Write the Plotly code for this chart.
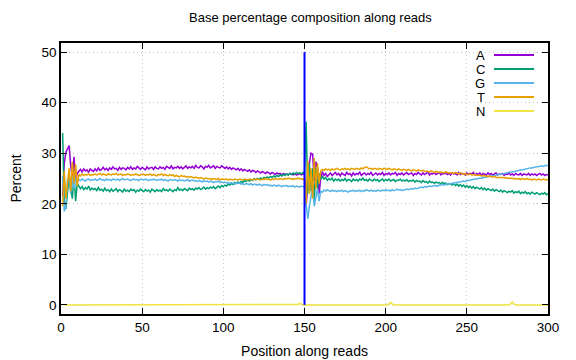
import plotly.graph_objects as go

positions = list(range(1, 301))

base_A = [
    21.5, 28.0, 30.2, 30.8, 31.5, 27.5, 25.0, 29.3, 24.5, 26.0,
    26.4, 26.8, 26.3, 26.9, 26.5, 26.7, 26.2, 26.9, 26.6, 26.4,
    26.9, 26.5, 27.1, 26.6, 26.8, 27.2, 26.7, 27.0, 26.6, 27.1,
    26.8, 27.3, 26.9, 27.0, 26.6, 27.2, 26.8, 27.1, 27.0, 26.7,
    27.2, 26.9, 27.3, 26.8, 27.1, 26.9, 27.4, 27.0, 26.8, 27.2,
    27.0, 26.7, 27.3, 26.9, 27.1, 27.2, 26.8, 27.3, 27.0, 26.9,
    27.3, 27.0, 27.2, 26.8, 27.4, 27.1, 27.0, 27.5, 26.9, 27.2,
    27.1, 27.4, 27.0, 27.3, 26.9, 27.2, 27.5, 27.0, 27.3, 27.1,
    27.4, 27.0, 27.6, 27.2, 27.1, 27.5, 27.3, 26.9, 27.4, 27.2,
    27.6, 27.1, 27.3, 27.5, 27.0, 27.4, 27.2, 27.1, 27.5, 27.2,
    27.0, 27.3, 26.9, 27.2, 26.8, 27.1, 26.9, 26.7, 27.0, 26.6,
    26.9, 26.5, 26.8, 26.6, 26.4, 26.7, 26.3, 26.6, 26.5, 26.2,
    26.5, 26.3, 26.1, 26.4, 26.2, 26.0, 26.3, 26.1, 25.9, 26.2,
    26.0, 25.8, 26.1, 25.9, 26.0, 25.7, 26.0, 25.8, 25.9, 25.7,
    26.0, 25.8, 25.7, 25.9, 25.7, 25.8, 26.0, 25.7, 25.9, 26.0,
    19.5, 24.0, 28.0, 30.0, 29.8, 24.5, 28.3, 27.2, 22.0, 25.0,
    26.4, 25.6, 26.0, 25.4, 25.8, 26.1, 25.6, 25.9, 26.2, 25.7,
    26.0, 25.5, 26.1, 25.8, 25.6, 26.2, 25.8, 26.0, 25.5, 26.1,
    25.7, 26.0, 25.8, 26.3, 25.6, 25.9, 26.1, 25.7, 26.0, 25.8,
    26.2, 25.6, 25.9, 26.1, 25.7, 26.0, 25.8, 26.2, 25.6, 26.0,
    25.8, 26.1, 25.7, 26.0, 25.9, 26.2, 25.6, 26.0, 25.8, 26.1,
    25.7, 26.0, 26.2, 25.8, 25.9, 26.1, 25.6, 26.0, 25.8, 26.2,
    25.9, 25.7, 26.1, 25.8, 26.0, 26.3, 25.7, 26.0, 25.9, 26.1,
    25.8, 26.0, 26.2, 25.7, 26.0, 25.9, 26.1, 25.8, 26.0, 25.7,
    26.1, 25.9, 26.0, 25.7, 26.2, 25.8, 26.0, 25.9, 25.7, 26.1,
    25.8, 26.0, 25.9, 26.2, 25.7, 26.0, 25.8, 26.1, 25.6, 26.0,
    25.9, 25.7, 26.1, 25.8, 26.0, 25.6, 25.9, 26.1, 25.7, 25.9,
    25.8, 26.0, 25.6, 25.9, 25.8, 26.1, 25.7, 25.9, 25.6, 26.0,
    25.8, 25.7, 26.0, 25.6, 25.9, 25.8, 25.7, 26.0, 25.6, 25.9,
    25.7, 25.9, 25.6, 25.8, 26.0, 25.7, 25.9, 25.6, 25.8, 25.7,
]

base_C = [
    34.0, 20.5, 19.0, 22.5, 25.5, 23.0, 21.0, 26.0, 20.5, 24.0,
    23.5, 23.0, 23.4, 22.8, 23.2, 22.9, 23.5, 22.7, 23.1, 22.8,
    23.0, 22.6, 23.2, 22.7, 22.9, 22.5, 23.1, 22.6, 22.8, 22.4,
    22.9, 22.5, 22.7, 23.0, 22.4, 22.8, 22.6, 22.3, 22.9, 22.5,
    22.7, 22.4, 22.9, 22.6, 22.8, 22.3, 22.7, 22.5, 22.9, 22.6,
    22.4, 22.8, 22.5, 22.7, 22.3, 22.9, 22.6, 22.4, 22.8, 22.5,
    22.7, 22.4, 23.0, 22.6, 22.8, 22.5, 22.9, 22.7, 22.4, 22.8,
    22.6, 23.2, 22.7, 22.9, 22.6, 23.0, 22.8, 22.6, 23.1, 22.8,
    23.0, 22.7, 23.1, 22.9, 23.2, 22.8, 23.0, 23.3, 22.9, 23.2,
    23.0, 23.3, 23.1, 23.4, 23.0, 23.3, 23.5, 23.2, 23.6, 23.4,
    23.7, 23.5, 23.9, 23.7, 24.0, 23.8, 24.2, 24.0, 24.3, 24.1,
    24.4, 24.2, 24.6, 24.4, 24.7, 24.5, 24.8, 24.6, 25.0, 24.7,
    25.0, 24.8, 25.1, 24.9, 25.2, 25.0, 25.3, 25.1, 25.4, 25.2,
    25.5, 25.3, 25.6, 25.4, 25.7, 25.5, 25.8, 25.6, 25.9, 25.7,
    26.0, 25.8, 26.1, 25.9, 26.2, 26.0, 26.1, 25.9, 26.2, 26.0,
    36.2, 22.0, 28.0, 22.5, 27.0, 20.5, 27.0, 23.0, 26.0, 24.8,
    25.4, 24.9, 25.2, 24.6, 25.0, 24.7, 25.1, 24.5, 24.9, 24.6,
    24.9, 24.5, 24.8, 24.6, 25.0, 24.5, 24.8, 24.7, 24.4, 24.9,
    24.6, 24.8, 24.5, 24.9, 24.7, 25.1, 24.6, 24.8, 24.5, 24.9,
    24.7, 24.5, 24.9, 24.6, 24.8, 24.4, 24.7, 24.9, 24.5, 24.8,
    24.6, 24.9, 24.5, 24.7, 24.8, 24.4, 24.7, 24.6, 24.9, 24.5,
    24.7, 24.5, 24.8, 24.4, 24.6, 24.5, 24.7, 24.3, 24.6, 24.4,
    24.5, 24.2, 24.6, 24.3, 24.4, 24.1, 24.5, 24.2, 24.3, 24.0,
    24.3, 24.1, 24.2, 23.9, 24.2, 24.0, 24.1, 23.8, 24.0, 23.9,
    23.7, 24.0, 23.6, 23.9, 23.5, 23.8, 23.4, 23.7, 23.3, 23.6,
    23.2, 23.5, 23.1, 23.4, 23.0, 23.3, 23.1, 22.9, 23.2, 22.8,
    23.1, 22.7, 23.0, 22.8, 22.6, 22.9, 22.5, 22.8, 22.6, 22.4,
    22.7, 22.3, 22.6, 22.4, 22.2, 22.5, 22.3, 22.6, 22.1, 22.4,
    22.2, 22.5, 22.0, 22.3, 22.1, 22.4, 22.0, 22.2, 21.9, 22.3,
    22.1, 21.9, 22.2, 22.0, 21.8, 22.1, 21.9, 22.2, 21.8, 22.0,
]

base_G = [
    25.5, 18.5, 19.5, 25.0, 24.5, 22.0, 25.5, 23.0, 25.2, 24.3,
    24.8, 24.6, 24.9, 24.7, 24.5, 24.8, 24.9, 24.6, 24.8, 24.7,
    24.9, 24.6, 24.8, 25.0, 24.7, 24.8, 24.6, 24.9, 24.7, 24.8,
    24.6, 24.9, 24.8, 24.7, 24.9, 24.6, 24.8, 25.0, 24.7, 24.8,
    24.9, 24.7, 24.6, 24.8, 24.9, 24.7, 24.8, 24.6, 24.9, 24.8,
    24.7, 24.9, 24.8, 24.6, 24.8, 24.7, 24.9, 24.8, 24.6, 24.8,
    24.7, 24.9, 24.6, 24.8, 24.7, 24.5, 24.8, 24.7, 24.6, 24.8,
    24.7, 24.5, 24.8, 24.6, 24.7, 24.5, 24.6, 24.8, 24.5, 24.6,
    24.7, 24.5, 24.6, 24.4, 24.6, 24.5, 24.3, 24.6, 24.4, 24.5,
    24.3, 24.5, 24.4, 24.2, 24.4, 24.3, 24.5, 24.2, 24.3, 24.2,
    24.3, 24.1, 24.2, 24.0, 24.2, 24.1, 23.9, 24.1, 24.0, 24.1,
    23.9, 24.0, 23.8, 24.0, 23.9, 23.8, 24.0, 23.7, 23.9, 23.8,
    23.7, 23.9, 23.8, 23.6, 23.8, 23.7, 23.8, 23.6, 23.7, 23.5,
    23.7, 23.6, 23.5, 23.7, 23.6, 23.4, 23.6, 23.5, 23.6, 23.4,
    23.5, 23.4, 23.6, 23.3, 23.5, 23.4, 23.3, 23.5, 23.4, 23.3,
    20.0, 17.0, 19.5, 21.5, 23.5, 19.5, 21.5, 23.0, 20.5, 22.5,
    22.3, 22.7, 22.5, 22.8, 22.6, 22.4, 22.7, 22.5, 22.6, 22.4,
    22.6, 22.5, 22.7, 22.4, 22.6, 22.5, 22.3, 22.6, 22.5, 22.7,
    22.4, 22.6, 22.5, 22.7, 22.4, 22.6, 22.5, 22.8, 22.6, 22.5,
    22.7, 22.5, 22.6, 22.4, 22.7, 22.6, 22.5, 22.7, 22.6, 22.8,
    22.6, 22.7, 22.5, 22.8, 22.6, 22.7, 22.9, 22.7, 22.8, 22.6,
    22.7, 22.8, 22.9, 22.8, 22.9, 23.0, 22.9, 23.1, 23.0, 23.1,
    23.2, 23.3, 23.2, 23.4, 23.3, 23.4, 23.5, 23.4, 23.5, 23.5,
    23.6, 23.5, 23.7, 23.7, 23.8, 23.7, 23.9, 23.9, 24.0, 23.9,
    24.1, 24.0, 24.2, 24.2, 24.3, 24.3, 24.4, 24.5, 24.4, 24.6,
    24.6, 24.7, 24.7, 24.8, 24.9, 24.9, 25.0, 25.1, 25.0, 25.2,
    25.2, 25.3, 25.4, 25.4, 25.5, 25.5, 25.6, 25.7, 25.7, 25.8,
    25.9, 25.9, 26.0, 26.1, 26.1, 26.2, 26.3, 26.3, 26.4, 26.5,
    26.5, 26.6, 26.7, 26.7, 26.8, 26.9, 26.9, 27.0, 27.1, 27.1,
    27.2, 27.2, 27.3, 27.3, 27.4, 27.5, 27.4, 27.5, 27.6, 27.5,
]

base_T = [
    19.5, 26.5, 21.0, 24.0, 27.0, 22.5, 28.3, 24.0, 27.8, 23.5,
    25.8, 25.5, 25.9, 25.6, 25.8, 25.7, 25.9, 25.6, 25.8, 25.7,
    25.9, 25.7, 25.8, 26.0, 25.7, 25.9, 25.8, 25.6, 25.9, 25.8,
    25.7, 25.9, 25.8, 26.0, 25.7, 25.8, 25.9, 25.6, 25.8, 25.7,
    25.9, 25.8, 25.6, 25.8, 25.7, 25.9, 25.8, 25.6, 25.7, 25.9,
    25.8, 25.6, 25.8, 25.7, 25.9, 25.6, 25.8, 25.7, 25.5, 25.8,
    25.7, 25.9, 25.6, 25.8, 25.7, 25.5, 25.8, 25.6, 25.7, 25.4,
    25.6, 25.5, 25.3, 25.6, 25.4, 25.5, 25.3, 25.4, 25.2, 25.4,
    25.3, 25.1, 25.3, 25.2, 25.0, 25.2, 25.1, 24.9, 25.1, 25.0,
    24.9, 25.0, 24.8, 25.0, 24.9, 24.8, 25.0, 24.7, 24.9, 24.8,
    24.8, 24.9, 24.7, 24.9, 24.8, 24.7, 24.9, 24.8, 24.7, 24.9,
    24.8, 24.7, 24.9, 24.8, 24.7, 24.9, 24.8, 24.7, 24.9, 24.8,
    24.9, 24.8, 24.7, 24.9, 24.8, 25.0, 24.8, 24.9, 24.7, 24.9,
    24.8, 25.0, 24.9, 24.8, 25.0, 24.9, 24.8, 25.0, 24.9, 25.1,
    24.9, 25.0, 24.8, 25.0, 24.9, 25.1, 24.9, 25.0, 24.8, 25.0,
    20.0, 28.5, 22.0, 27.0, 21.0, 29.0, 23.0, 28.0, 24.0, 26.5,
    26.8, 26.6, 26.9, 26.7, 26.8, 26.6, 26.9, 26.7, 26.8, 27.0,
    26.8, 26.7, 26.9, 26.8, 27.0, 26.8, 26.9, 26.7, 27.0, 26.9,
    26.8, 27.0, 26.9, 26.8, 27.1, 26.9, 27.2, 27.3, 27.1, 26.9,
    27.0, 26.8, 27.0, 26.9, 26.8, 27.0, 26.9, 26.8, 27.0, 26.9,
    26.8, 27.0, 26.9, 26.7, 26.9, 26.8, 26.7, 26.9, 26.8, 26.6,
    26.8, 26.7, 26.6, 26.8, 26.7, 26.5, 26.7, 26.6, 26.5, 26.7,
    26.6, 26.5, 26.6, 26.4, 26.5, 26.4, 26.3, 26.5, 26.4, 26.2,
    26.4, 26.3, 26.2, 26.3, 26.2, 26.1, 26.3, 26.2, 26.1, 26.2,
    26.1, 26.0, 26.2, 26.0, 25.9, 26.1, 25.9, 25.8, 26.0, 25.8,
    25.8, 25.9, 25.7, 25.7, 25.8, 25.6, 25.6, 25.7, 25.5, 25.5,
    25.6, 25.4, 25.4, 25.5, 25.3, 25.3, 25.4, 25.2, 25.2, 25.3,
    25.2, 25.2, 25.1, 25.2, 25.0, 25.1, 25.0, 25.1, 24.9, 25.0,
    24.9, 25.0, 24.8, 25.0, 24.9, 24.8, 25.0, 24.8, 24.9, 24.7,
    24.9, 24.8, 24.7, 24.9, 24.8, 24.7, 24.9, 24.8, 24.7, 24.8,
]

base_N = [
    0.1, 0.0, 0.0, 0.0, 0.0, 0.0, 0.0, 0.0, 0.0, 0.0,
    0.0, 0.0, 0.0, 0.0, 0.0, 0.0, 0.0, 0.0, 0.0, 0.0,
    0.0, 0.0, 0.0, 0.0, 0.0, 0.0, 0.0, 0.0, 0.0, 0.0,
    0.0, 0.0, 0.0, 0.0, 0.0, 0.0, 0.0, 0.0, 0.0, 0.0,
    0.0, 0.0, 0.0, 0.0, 0.0, 0.0, 0.0, 0.0, 0.0, 0.0,
    0.0, 0.0, 0.0, 0.0, 0.0, 0.0, 0.0, 0.0, 0.0, 0.0,
    0.0, 0.0, 0.0, 0.0, 0.0, 0.0, 0.0, 0.0, 0.0, 0.0,
    0.0, 0.0, 0.0, 0.0, 0.0, 0.0, 0.0, 0.0, 0.0, 0.0,
    0.0, 0.0, 0.0, 0.0, 0.0, 0.0, 0.0, 0.0, 0.0, 0.0,
    0.0, 0.0, 0.0, 0.0, 0.0, 0.0, 0.0, 0.0, 0.0, 0.0,
    0.0, 0.0, 0.0, 0.0, 0.0, 0.0, 0.0, 0.0, 0.0, 0.0,
    0.0, 0.0, 0.0, 0.0, 0.0, 0.0, 0.0, 0.0, 0.0, 0.0,
    0.0, 0.0, 0.0, 0.0, 0.0, 0.0, 0.0, 0.0, 0.0, 0.0,
    0.0, 0.0, 0.0, 0.0, 0.0, 0.0, 0.0, 0.0, 0.0, 0.0,
    0.0, 0.0, 0.0, 0.0, 0.0, 0.1, 0.3, 0.1, 0.0, 0.0,
    0.0, 0.0, 0.0, 0.0, 0.0, 0.0, 0.0, 0.0, 0.0, 0.0,
    0.0, 0.0, 0.0, 0.0, 0.0, 0.0, 0.0, 0.0, 0.0, 0.0,
    0.0, 0.0, 0.0, 0.0, 0.0, 0.0, 0.0, 0.0, 0.0, 0.0,
    0.0, 0.0, 0.0, 0.0, 0.0, 0.0, 0.0, 0.0, 0.0, 0.0,
    0.0, 0.0, 0.0, 0.0, 0.0, 0.0, 0.0, 0.0, 0.0, 0.0,
    0.0, 0.2, 0.5, 0.2, 0.0, 0.0, 0.0, 0.0, 0.0, 0.0,
    0.0, 0.0, 0.0, 0.0, 0.0, 0.0, 0.0, 0.0, 0.0, 0.0,
    0.0, 0.0, 0.0, 0.0, 0.0, 0.0, 0.0, 0.0, 0.0, 0.0,
    0.0, 0.0, 0.0, 0.0, 0.0, 0.0, 0.0, 0.0, 0.0, 0.0,
    0.0, 0.0, 0.0, 0.0, 0.0, 0.0, 0.0, 0.0, 0.0, 0.0,
    0.0, 0.0, 0.0, 0.0, 0.0, 0.0, 0.0, 0.0, 0.0, 0.0,
    0.0, 0.0, 0.0, 0.0, 0.0, 0.0, 0.0, 0.0, 0.0, 0.0,
    0.0, 0.0, 0.0, 0.0, 0.0, 0.0, 0.2, 0.6, 0.2, 0.0,
    0.0, 0.0, 0.0, 0.0, 0.0, 0.0, 0.0, 0.0, 0.0, 0.0,
    0.0, 0.0, 0.0, 0.0, 0.0, 0.0, 0.0, 0.0, 0.0, 0.0,
]

series_names = ["A", "C", "G", "T", "N"]
series_values = [base_A, base_C, base_G, base_T, base_N]
series_colors = ["#9400d3", "#009e73", "#56b4e9", "#e69f00", "#f0e442"]

read_boundary_x = [150, 150]
read_boundary_y = [0, 50]

x_ticks = [0, 50, 100, 150, 200, 250, 300]
y_ticks = [0, 10, 20, 30, 40, 50]

FONT = "Liberation Sans, Arial, sans-serif"

# page body has an 8px margin; figure is sized to fit inside the window
OFF = 8
W, H = 576 - OFF, 360 - OFF
L, T = 61 - OFF, 43 - OFF
R = W - (548 - OFF)
B = H - (314 - OFF)
pw, ph = W - L - R, H - T - B

def px_x(p):  # p: page pixel
    return (p - OFF - L) / pw

def px_y(p):
    return 1 - (p - OFF - T) / ph

fig = go.Figure()
for name, vals, col in zip(series_names, series_values, series_colors):
    fig.add_trace(go.Scatter(x=positions, y=vals, mode="lines", name=name,
                             line=dict(color=col, width=1.5), showlegend=False))

fig.add_trace(go.Scatter(x=read_boundary_x, y=read_boundary_y, mode="lines",
                         line=dict(color="#0000ff", width=2), showlegend=False))

# gnuplot-style legend: label on the left, line sample on the right
for i, (name, col) in enumerate(zip(series_names, series_colors)):
    yy = px_y(55 + 14 * i)
    fig.add_annotation(x=px_x(486), y=yy, xref="paper", yref="paper", text=name,
                       showarrow=False, xanchor="right", yanchor="middle",
                       height=12, borderpad=0,
                       font=dict(family=FONT, size=13, color="black"))
    fig.add_shape(type="line", xref="paper", yref="paper",
                  x0=px_x(494), x1=px_x(534), y0=yy, y1=yy,
                  line=dict(color=col, width=2))

fig.add_annotation(x=px_x(310), y=px_y(18), xref="paper", yref="paper",
                   text="Base percentage composition along reads", showarrow=False,
                   xanchor="center", yanchor="middle",
                   font=dict(family=FONT, size=13, color="black"))

axis_common = dict(showline=True, linecolor="black", linewidth=1.5, mirror="ticks",
                   ticks="inside", ticklen=6, tickwidth=1, tickcolor="black",
                   showgrid=True, gridcolor="#c8c8c8", griddash="1px,3px", gridwidth=1,
                   zeroline=False, automargin=False,
                   tickfont=dict(family=FONT, size=13.5, color="black"),
                   title_font=dict(family=FONT, size=14, color="black"))

fig.update_xaxes(range=[0, 300], tickvals=x_ticks, title_text="Position along reads",
                 title_standoff=12, **axis_common)
fig.update_yaxes(range=[-1.8, 51.8], tickvals=y_ticks, title_text="Percent",
                 title_standoff=18, **axis_common)

fig.update_layout(width=W, height=H, margin=dict(l=L, r=R, t=T, b=B),
                  plot_bgcolor="white", paper_bgcolor="white", showlegend=False,
                  font=dict(family=FONT))

fig.write_html("out.html")
